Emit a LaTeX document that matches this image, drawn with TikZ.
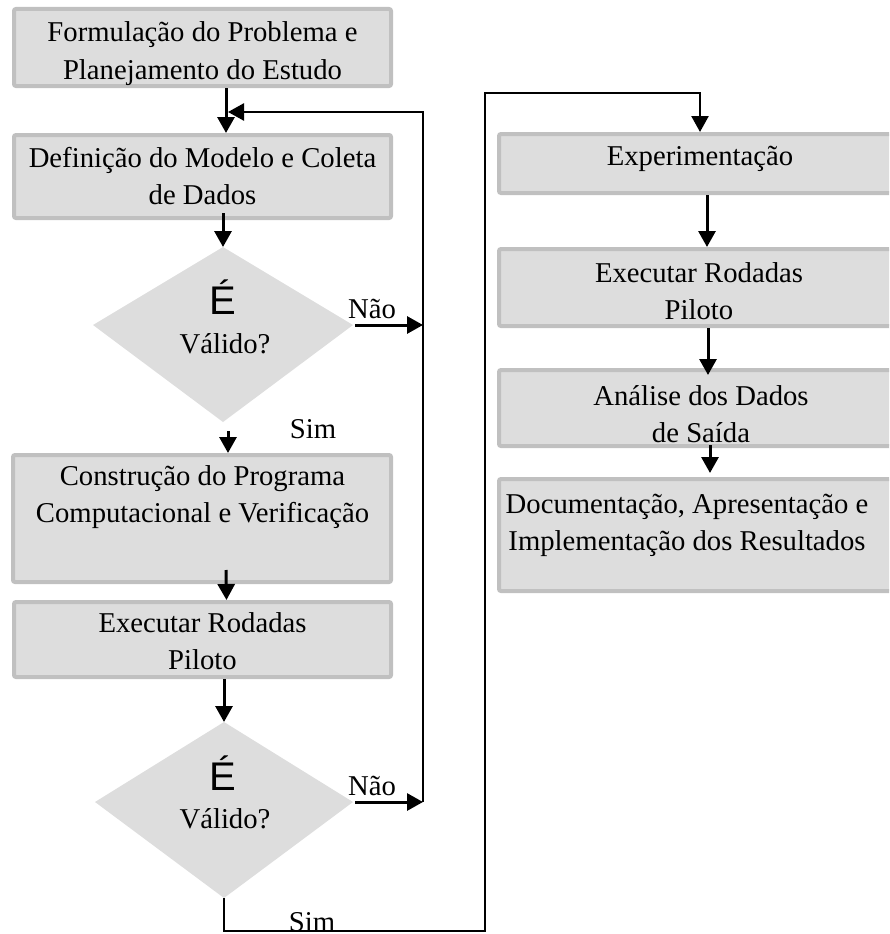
\documentclass[tikz,border=0pt]{standalone}
\usepackage{fontspec}
\setmainfont{Liberation Serif}
\newfontfamily\accfont{Liberation Sans}
\usetikzlibrary{arrows.meta}
\definecolor{boxfill}{RGB}{221,221,221}
\definecolor{boxline}{RGB}{192,192,192}
\newcommand{\boxfont}{\fontsize{28.7}{37.5}\selectfont}
\newcommand{\twolines}[2]{\begin{tabular}[t]{@{}c@{}}#1\\#2\end{tabular}}
\newcommand{\bigE}{\accfont\fontsize{40}{44}\selectfont\char"00C9\relax}
\begin{document}
\begin{tikzpicture}[x=1pt, y=-1pt,
  stepbox/.style={rectangle, draw=boxline, fill=boxfill, line width=4pt,
                  rounded corners=2pt, inner sep=0pt},
  txt/.style={anchor=base, inner sep=0pt, font=\boxfont},
  arr/.style={line width=3pt, -{Triangle[length=16pt,width=17pt]}}]
\useasboundingbox (0,0) rectangle (889,934);
\clip (0,0) rectangle (889,934);

% process boxes, left column
\node[stepbox, minimum width=377pt, minimum height=77pt]  (b1) at (202.5,47.5)  {};
\node[stepbox, minimum width=377pt, minimum height=83pt]  (b2) at (202.5,176.5) {};
\node[stepbox, minimum width=378pt, minimum height=127pt] (b3) at (202,518.5)   {};
\node[stepbox, minimum width=377pt, minimum height=75pt]  (b4) at (202.5,639.5) {};

% process boxes, right column
\node[stepbox, minimum width=402pt, minimum height=59pt]  (e1) at (700,163.5) {};
\node[stepbox, minimum width=402pt, minimum height=77pt]  (e2) at (700,287.5) {};
\node[stepbox, minimum width=402pt, minimum height=76pt]  (e3) at (700,408)   {};
\node[stepbox, minimum width=402pt, minimum height=112pt] (e4) at (700,535)   {};

% decision diamonds
\coordinate (d1t) at (223,247);
\coordinate (d1l) at (93,325);
\coordinate (d1r) at (353,325);
\coordinate (d1b) at (223,422);
\fill[boxfill] (d1t) -- (d1r) -- (d1b) -- (d1l) -- cycle;
\coordinate (d2t) at (224,722);
\coordinate (d2l) at (95,802);
\coordinate (d2r) at (353,802);
\coordinate (d2b) at (224,898);
\fill[boxfill] (d2t) -- (d2r) -- (d2b) -- (d2l) -- cycle;

% box texts
\node[txt] (t1) at (202.5,42)  {\twolines{Formulação do Problema e}{Planejamento do Estudo}};
\node[txt] (t2) at (202.5,167) {\twolines{Definição do Modelo e Coleta}{de Dados}};
\node[txt] (t3) at (202.5,485) {\twolines{Construção do Programa}{Computacional e Verificação}};
\node[txt] (t4) at (202.5,632) {\twolines{Executar Rodadas}{Piloto}};
\node[txt] (t5) at (700,165)   {Experimentação};
\node[txt] (t6) at (699,282)   {\twolines{Executar Rodadas}{Piloto}};
\node[txt] (t7) at (701,405)   {\twolines{Análise dos Dados}{de Saída}};
\node[txt] (t8) at (687,513)   {\twolines{Documentação, Apresentação e}{Implementação dos Resultados}};

% decision texts
\node[txt] (q1a) at (222.5,314) {\bigE};
\node[txt] (q1b) at (225,353)   {Válido?};
\node[txt] (q2a) at (222.5,790) {\bigE};
\node[txt] (q2b) at (225,828)   {Válido?};

% branch labels
\node[txt] (n1) at (372,318) {Não};
\node[txt] (s1) at (313,438) {Sim};
\node[txt] (n2) at (372,795) {Não};
\node[txt] (s2) at (312,931) {Sim};

% loop back to the model definition
\coordinate (loopTop) at (423,112);
\coordinate (loopBot) at (423,802);
\coordinate (loopIn)  at (228,112);
\draw[arr, line width=2.5pt] (loopBot) -- (loopTop) -- (loopIn);

% left column flow
\draw[arr] ([xshift=23.5pt]b1.south) -- ([xshift=23.5pt]b2.north);
\draw[arr] ([xshift=20.5pt, yshift=7pt]b2.south) -- (d1t);
\draw[arr] ([xshift=2pt]d1r) -- (d1r -| loopTop);
\draw[arr] ([xshift=5pt, yshift=-9pt]d1b) -- ([xshift=26pt]b3.north);
\draw[arr] ([xshift=24pt, yshift=14pt]b3.south) -- ([xshift=24pt]b4.north);
\draw[arr] ([xshift=21.5pt]b4.south) -- (d2t);
\draw[arr] ([xshift=2pt]d2r) -- (d2r -| loopBot);

% "Sim" route over to the experimentation column
\coordinate (sbL) at (224,931);
\coordinate (sbR) at (485,931);
\coordinate (stR) at (485,93);
\draw[arr, line width=2.5pt] (d2b) -- (sbL) -- (sbR) -- (stR) -- (stR -| e1.north) -- (e1.north);

% right column flow
\draw[arr] ([xshift=7pt]e1.south) -- ([xshift=7pt]e2.north);
\draw[arr] ([xshift=8pt]e2.south) -- ([xshift=8pt, yshift=-7pt]e3.north);
\draw[arr] ([xshift=10pt, yshift=3pt]e3.south) -- ([xshift=10pt, yshift=4pt]e4.north);
\end{tikzpicture}
\end{document}
